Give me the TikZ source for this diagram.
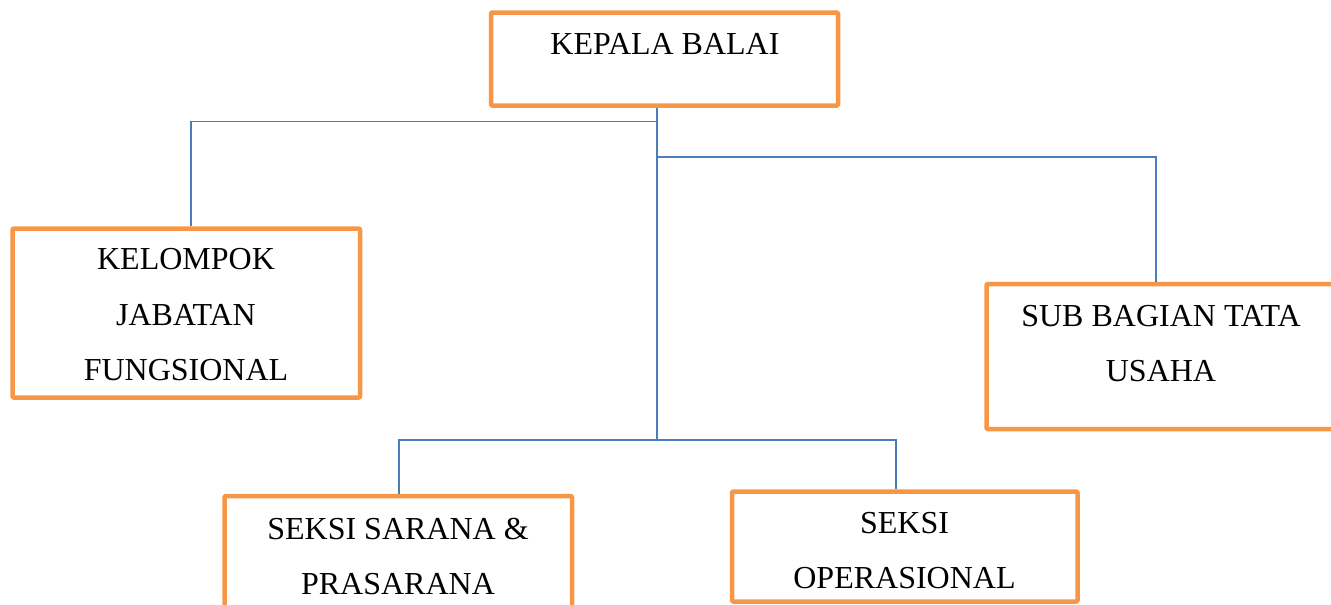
\documentclass[tikz,border=0pt]{standalone}
\usepackage{fontspec}
\setmainfont{Liberation Serif}
\definecolor{boxorange}{HTML}{F79646}
\definecolor{lineblue}{HTML}{4A7EBB}
\begin{document}
\begin{tikzpicture}[x=1pt,y=-1pt,
  orgbox/.style={draw=boxorange, line width=4.5pt, line join=round, rounded corners=1pt, inner sep=0pt},
  conn/.style={draw=lineblue, line width=1.9pt},
  lbl/.style={anchor=north, inner sep=0pt, align=center, font=\fontsize{32}{55.5}\selectfont}]
\useasboundingbox (0,0) rectangle (1331,605);
\begin{scope}
\clip (0,0) rectangle (1331,605);
% boxes
\node[orgbox, minimum width=347pt, minimum height=93pt] (kepala) at (664.5,59) {};
\node[orgbox, minimum width=347.5pt, minimum height=169pt] (kelompok) at (186.25,313) {};
\node[orgbox, minimum width=349pt, minimum height=145pt] (subbag) at (1161,356.5) {};
\node[orgbox, minimum width=347.5pt, minimum height=169pt] (sarana) at (398.25,580.5) {};
\node[orgbox, minimum width=345.5pt, minimum height=110pt] (operasional) at (904.75,546.5) {};
% texts
\node[lbl] (kepala-t) at (665,33.2) {KEPALA BALAI};
\node[lbl] (kelompok-t) at (186,248.2) {KELOMPOK\\JABATAN\\FUNGSIONAL};
\node[lbl] (subbag-t) at (1161,305) {SUB BAGIAN TATA\\USAHA};
\node[lbl] (sarana-t) at (398,518) {SEKSI SARANA \&\\PRASARANA};
\node[lbl] (operasional-t) at (904.5,511.7) {SEKSI\\OPERASIONAL};
% connectors
\coordinate (jl) at (656.7,121.5);
\coordinate (jr) at (656.7,156.7);
\coordinate (bot) at (656.7,440);
\draw[conn] (kepala.south -| bot) -- (bot);
\draw[conn] (jl) -| ([xshift=4.5pt]kelompok.north);
\draw[conn] (jr) -| ([xshift=-5.3pt]subbag.north);
\draw[conn] ([xshift=0.75pt]sarana.north) |- (bot) -| ([xshift=-8.75pt]operasional.north);
\end{scope}
\end{tikzpicture}
\end{document}
